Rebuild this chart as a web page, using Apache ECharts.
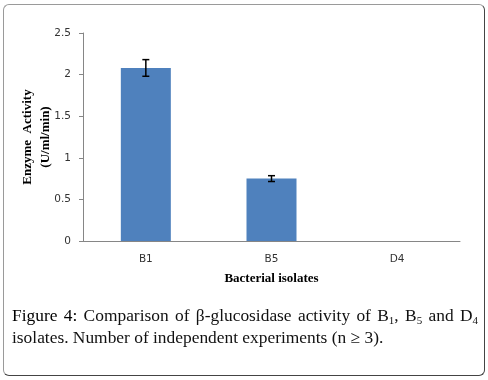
<!DOCTYPE html>
<html>
<head>
<meta charset="utf-8">
<script src="https://cdn.jsdelivr.net/npm/echarts@6/dist/echarts.min.js"></script>
<style>
  html, body { margin: 0; padding: 0; background: #fff; }
  .wrap { position: relative; width: 488px; height: 380px; }
  #chart { position: absolute; left: 0; top: 0; width: 488px; height: 380px; }
  .frame {
    position: absolute; left: 3px; top: 4px; width: 480px; height: 370px;
    border: 1px solid #9a9a9a; border-right-color: #444; border-bottom-color: #444;
    border-radius: 6px; pointer-events: none;
  }
  .caption {
    position: absolute; left: 12px; top: 304px; width: 466px;
    font-family: "Liberation Serif", "DejaVu Serif", serif; font-size: 17.4px;
    line-height: 22px; color: #111; text-align: justify;
  }
  .caption b { font-weight: normal; color: #000; }
  .caption sub { font-size: 11px; vertical-align: -3px; line-height: 0; }
</style>
</head>
<body>
<div class="wrap">
  <div id="chart"></div>
  <div class="frame"></div>
  <div class="caption"><b>Figure 4:</b> Comparison of β-glucosidase activity of B<sub>1</sub>, B<sub>5</sub> and D<sub>4</sub> isolates. Number of independent experiments (n ≥ 3).</div>
</div>
<script>
// Valores
const isolates = ['B1', 'B5', 'D4'];
const activity = [2.08, 0.75, 0];
const errors = [0.1, 0.035, 0];

const chart = echarts.init(document.getElementById('chart'));

const option = {
  animation: false,
  grid: {
    left: 83,
    right: 28,
    top: 33,
    bottom: 139
  },
  xAxis: {
    type: 'category',
    data: isolates,
    name: 'Bacterial isolates',
    nameLocation: 'middle',
    nameGap: 31,
    nameTextStyle: {
      fontFamily: 'Liberation Serif',
      fontWeight: 'bold',
      fontSize: 13,
      color: '#000'
    },
    axisLine: { lineStyle: { color: '#868686' } },
    axisTick: { length: 5, lineStyle: { color: '#868686' } },
    axisLabel: {
      fontFamily: 'DejaVu Sans',
      fontSize: 10.5,
      color: '#333',
      margin: 13
    }
  },
  yAxis: {
    type: 'value',
    min: 0,
    max: 2.5,
    interval: 0.5,
    name: 'Enzyme  Activity\n(U/ml/min)',
    nameLocation: 'middle',
    nameRotate: 90,
    nameGap: 28,
    nameMoveOverlap: false,
    nameTextStyle: {
      fontFamily: 'Liberation Serif',
      fontWeight: 'bold',
      fontSize: 13,
      lineHeight: 18,
      color: '#000'
    },
    axisLine: { show: true, lineStyle: { color: '#868686' } },
    axisTick: { show: true, length: 4, lineStyle: { color: '#868686' } },
    splitLine: { show: false },
    axisLabel: {
      fontFamily: 'DejaVu Sans',
      fontSize: 10.5,
      color: '#333',
      margin: 12
    }
  },
  series: [
    {
      type: 'bar',
      data: activity,
      barWidth: 50,
      itemStyle: { color: '#4F81BD' }
    },
    {
      type: 'custom',
      data: isolates.map((c, i) => [i, activity[i] - errors[i], activity[i] + errors[i]]),
      renderItem: function (params, api) {
        if (api.value(2) - api.value(1) <= 0) return null;
        const lo = api.coord([api.value(0), api.value(1)]);
        const hi = api.coord([api.value(0), api.value(2)]);
        const w = 3.5;
        const style = { stroke: '#000', lineWidth: 1.5 };
        return {
          type: 'group',
          children: [
            { type: 'line', shape: { x1: hi[0], y1: hi[1], x2: lo[0], y2: lo[1] }, style: style },
            { type: 'line', shape: { x1: hi[0] - w, y1: hi[1], x2: hi[0] + w, y2: hi[1] }, style: style },
            { type: 'line', shape: { x1: lo[0] - w, y1: lo[1], x2: lo[0] + w, y2: lo[1] }, style: style }
          ]
        };
      },
      z: 5
    }
  ]
};

chart.setOption(option);
</script>
</body>
</html>
